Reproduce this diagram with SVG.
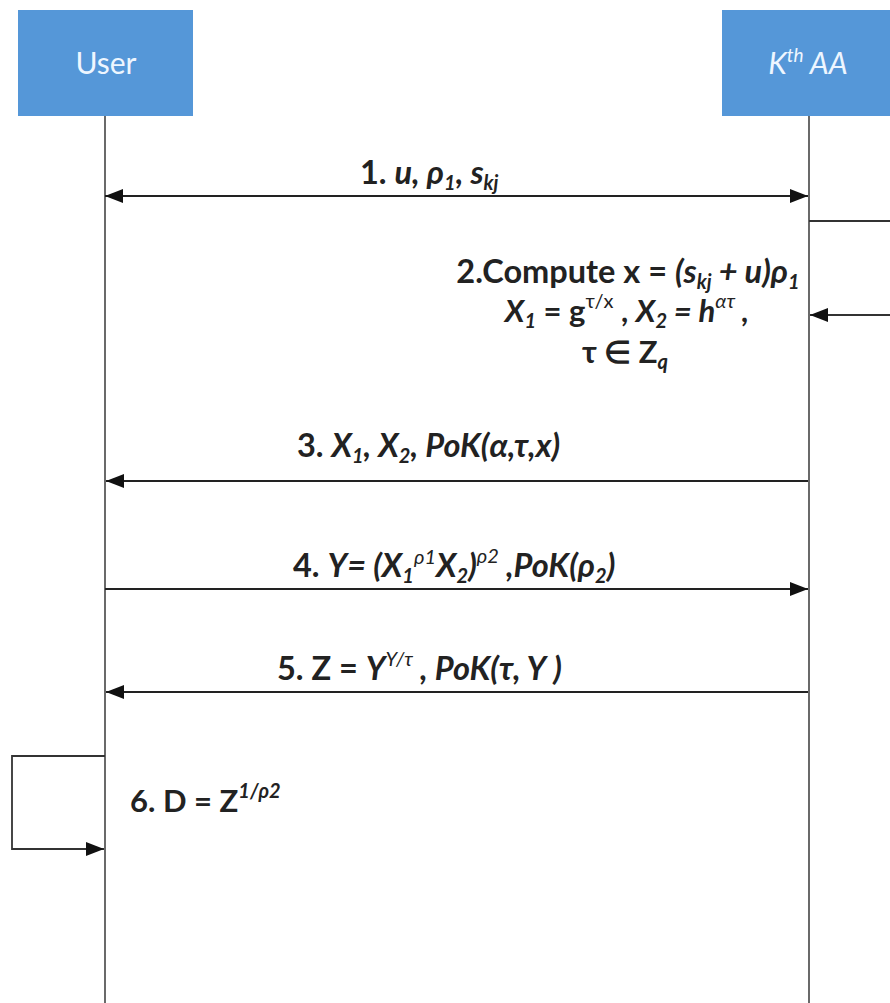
<svg xmlns="http://www.w3.org/2000/svg" width="890" height="1003" viewBox="0 0 890 1003">
<defs>
<style>
.box{fill:#5597d8;}
.hdr{font-family:Lato,"Liberation Sans",sans-serif;font-size:30px;fill:#eef6ff;text-anchor:middle;}
.life{stroke:#444;stroke-width:1.6;fill:none;}
.msg{stroke:#222;stroke-width:2.2;fill:none;}
.loop{stroke:#333;stroke-width:1.8;fill:none;}
.lbl{font-family:Lato,"Liberation Sans",sans-serif;font-weight:700;font-size:31px;fill:#222;}
.big{font-size:32.5px;}
.it{font-style:italic;}
.sm{font-size:20px;}
.hs{font-size:19px;}
</style>
<marker id="ah" viewBox="0 0 18 14" refX="18" refY="7" markerWidth="18" markerHeight="14" markerUnits="userSpaceOnUse" orient="auto-start-reverse">
<path d="M0,0 L18,7 L0,14 Z" fill="#111"/>
</marker>
</defs>
<rect width="890" height="1003" fill="#fff"/>
<g id="user">
<rect class="box" x="18" y="10" width="175" height="106"/>
<text class="hdr" x="106" y="74">User</text>
</g>
<g id="aa">
<rect class="box" x="722" y="10" width="168" height="106"/>
<text class="hdr" x="808" y="74" font-style="italic">K<tspan class="hs" dy="-12">th</tspan><tspan dy="12"> AA</tspan></text>
</g>
<g id="connectors">
<line class="life" x1="105" y1="116" x2="105" y2="1003"/>
<line class="life" x1="809" y1="116" x2="809" y2="1003"/>
<line class="msg" x1="105" y1="196" x2="808" y2="196" marker-start="url(#ah)" marker-end="url(#ah)"/>
<polyline class="loop" points="809,221 892,221 892,315 810,315" marker-end="url(#ah)"/>
<line class="msg" x1="808" y1="481" x2="106" y2="481" marker-end="url(#ah)"/>
<line class="msg" x1="105" y1="589" x2="808" y2="589" marker-end="url(#ah)"/>
<line class="msg" x1="808" y1="692" x2="106" y2="692" marker-end="url(#ah)"/>
<polyline class="loop" points="105,756 12,756 12,849 104,849" marker-end="url(#ah)"/>
</g>
<g id="labels">
<text class="lbl big" x="360" y="184">1. <tspan class="it">u, ρ<tspan class="sm" dy="6">1</tspan><tspan dy="-6">, s</tspan><tspan class="sm" dy="6">kj</tspan></tspan></text>
<text class="lbl big" x="628" y="283" text-anchor="middle">2.Compute x = <tspan class="it">(s<tspan class="sm" dy="6">kj</tspan><tspan dy="-6"> + u)ρ</tspan><tspan class="sm" dy="6">1</tspan></tspan></text>
<text class="lbl" x="627" y="322" text-anchor="middle"><tspan class="it">X<tspan class="sm" dy="6">1</tspan></tspan><tspan dy="-6"> = g</tspan><tspan class="sm" dy="-14" font-weight="400">τ/x</tspan><tspan dy="14"> , </tspan><tspan class="it">X<tspan class="sm" dy="6">2</tspan><tspan dy="-6"> = h</tspan><tspan class="sm" dy="-14" font-weight="400">ατ</tspan><tspan dy="14"> ,</tspan></tspan></text>
<text class="lbl" x="625" y="363" text-anchor="middle">τ ∈ Z<tspan class="sm it" dy="6">q</tspan></text>
<text class="lbl big" x="297" y="457">3. <tspan class="it">X<tspan class="sm" dy="6">1</tspan><tspan dy="-6">, X</tspan><tspan class="sm" dy="6">2</tspan><tspan dy="-6">, PoK(α,τ,x)</tspan></tspan></text>
<text class="lbl big" x="293" y="577">4. <tspan class="it">Y= (X<tspan class="sm" dy="6">1</tspan><tspan class="sm" dy="-19" font-weight="400">ρ1</tspan><tspan dy="13">X</tspan><tspan class="sm" dy="6">2</tspan><tspan dy="-6">)</tspan><tspan class="sm" dy="-14" font-weight="400">ρ2</tspan><tspan dy="14"> ,PoK(ρ</tspan><tspan class="sm" dy="6">2</tspan><tspan dy="-6">)</tspan></tspan></text>
<text class="lbl big" x="277" y="680">5. Z = <tspan class="it">Y</tspan><tspan class="sm it" dy="-14" font-weight="400">Υ/τ</tspan><tspan dy="14" class="it"> , PoK(τ, Υ )</tspan></text>
<text class="lbl" x="130" y="812">6. D = Z<tspan class="sm it" dy="-14">1/ρ2</tspan></text>
</g>
</svg>
